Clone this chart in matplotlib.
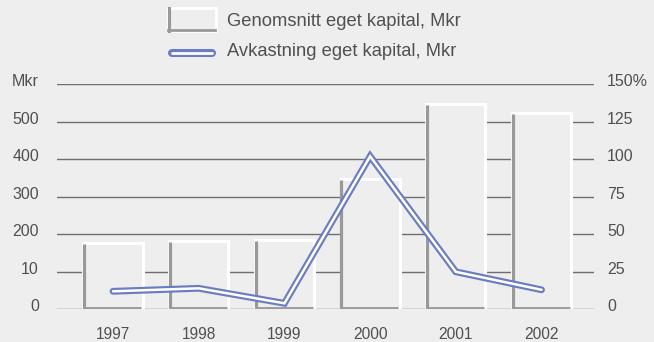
import numpy as np
import matplotlib
matplotlib.use("Agg")
import matplotlib.pyplot as plt
import matplotlib.transforms as mtransforms
from matplotlib.patches import Rectangle
from matplotlib.lines import Line2D

# data
years = ["1997", "1998", "1999", "2000", "2001", "2002"]
equity_avg = [176, 182, 185, 347, 547, 523]      # Mkr, left axis
equity_return = [12, 14, 4, 102, 25, 13]         # %, right axis

left_ticks = [0, 100, 200, 300, 400, 500, 600]
left_labels = ["0", "10", "200", "300", "400", "500", "Mkr"]
right_ticks = [0, 25, 50, 75, 100, 125, 150]
right_labels = ["0", "25", "50", "75", "100", "125", "150%"]

bg = "#eeeeee"
grid_col = "#6e6e6e"
shadow = "#999999"
blue = "#6b7dbf"
text_col = "#505050"
fs = 11.5

plt.rcParams["font.family"] = ["Liberation Sans", "DejaVu Sans"]

fig = plt.figure(figsize=(6.54, 3.42), dpi=100, facecolor=bg)
ax = fig.add_axes([0.0872, 0.0956, 0.8208, 0.6579], facecolor=bg)
ax2 = ax.twinx()

x = np.arange(len(years))
w = 0.69

# horizontal rules behind the bars
for t in left_ticks:
    ax.axhline(t, color=grid_col, lw=1.0, zorder=0)

# bars with a bevelled look: white top/right, grey left/bottom
ax.bar(x, equity_avg, width=w, color=bg, edgecolor="white", lw=2.2, zorder=2)
ax.vlines(x - w / 2 + 0.008, 1, np.array(equity_avg) - 3, color=shadow, lw=2.3, zorder=3)
ax.hlines(np.full(len(x), 3.5), x - w / 2, x + w / 2 - 0.015, color=shadow, lw=2.0, zorder=3)

ax.set_xlim(-0.653, 5.61)
ax.set_ylim(0, 600)
ax.set_yticks(left_ticks)
ax.set_yticklabels(left_labels)
ax.set_xticks(x)
ax.set_xticklabels(years)
ax.tick_params(axis="y", length=0, pad=13, labelsize=fs, labelcolor=text_col)
ax.tick_params(axis="x", length=0, pad=13, labelsize=11.2, labelcolor=text_col)

ax2.set_ylim(0, 150)
ax2.set_yticks(right_ticks)
ax2.set_yticklabels(right_labels)
ax2.tick_params(axis="y", length=0, pad=9.5, labelsize=fs, labelcolor=text_col)

# value labels sit a little above their rules
lift = mtransforms.ScaledTranslation(0, 4 / 100, fig.dpi_scale_trans)
for lab in ax.get_yticklabels() + ax2.get_yticklabels():
    lab.set_transform(lab.get_transform() + lift)

# return line: blue outline with a white core
ax2.plot(x, equity_return, color=blue, lw=4.9, solid_capstyle="round",
         solid_joinstyle="miter", zorder=4)
ax2.plot(x, equity_return, color="white", lw=1.8, solid_capstyle="round",
         solid_joinstyle="miter", zorder=5)

for a in (ax, ax2):
    for s in a.spines.values():
        s.set_visible(False)

# legend
W, H = 654, 342
def fx(px):
    return px / W
def fy(py):
    return 1 - py / H

fig.patches.append(Rectangle((fx(168), fy(31)), fx(48), 23 / H,
                             transform=fig.transFigure, facecolor=bg,
                             edgecolor="white", lw=2.0))
fig.lines.append(Line2D([fx(168.5), fx(168.5)], [fy(30.5), fy(8)],
                        transform=fig.transFigure, color=shadow, lw=2.2))
fig.lines.append(Line2D([fx(168), fx(215)], [fy(30), fy(30)],
                        transform=fig.transFigure, color=shadow, lw=2.0))
fig.lines.append(Line2D([fx(172), fx(212)], [fy(52.5), fy(52.5)],
                        transform=fig.transFigure, color=blue, lw=5.8,
                        solid_capstyle="round"))
fig.lines.append(Line2D([fx(172), fx(212)], [fy(52.5), fy(52.5)],
                        transform=fig.transFigure, color="white", lw=2.0,
                        solid_capstyle="round"))
fig.text(fx(227), fy(21), "Genomsnitt eget kapital, Mkr", fontsize=13.2,
         color=text_col, va="center", ha="left")
fig.text(fx(227), fy(52), "Avkastning eget kapital, Mkr", fontsize=13.2,
         color=text_col, va="center", ha="left")

fig.savefig("out.png", dpi=100, facecolor=bg)
